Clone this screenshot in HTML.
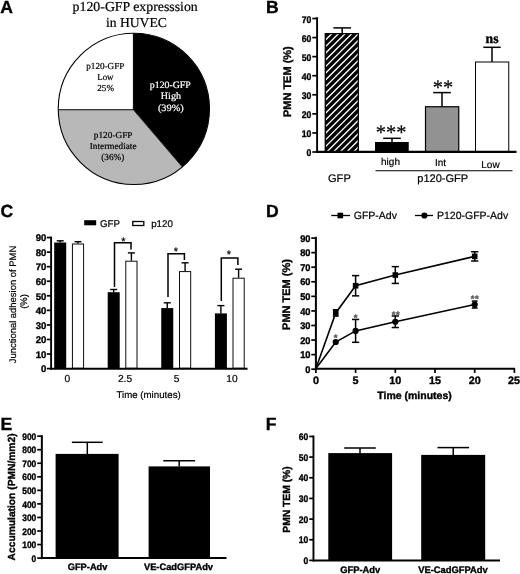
<!DOCTYPE html>
<html lang="en"><head><meta charset="utf-8"><title>p120-GFP expression figure</title>
<style>html,body{margin:0;padding:0;background:#fff}svg{display:block;will-change:transform;text-rendering:geometricPrecision}</style></head>
<body><svg width="520" height="574" viewBox="0 0 520 574">
<rect width="520" height="574" fill="#fff"/>
<text x="0.2" y="12.7" font-family='"Liberation Sans", Arial, sans-serif' font-size="17.6" font-weight="bold" stroke="#000" stroke-width="0.35">A</text>
<text x="266" y="12.7" font-family='"Liberation Sans", Arial, sans-serif' font-size="17.6" font-weight="bold" stroke="#000" stroke-width="0.35">B</text>
<text x="0.4" y="216.7" font-family='"Liberation Sans", Arial, sans-serif' font-size="17.6" font-weight="bold" stroke="#000" stroke-width="0.35">C</text>
<text x="266" y="216.7" font-family='"Liberation Sans", Arial, sans-serif' font-size="17.6" font-weight="bold" stroke="#000" stroke-width="0.35">D</text>
<text x="0.6" y="430" font-family='"Liberation Sans", Arial, sans-serif' font-size="17.6" font-weight="bold" stroke="#000" stroke-width="0.35">E</text>
<text x="265.8" y="430" font-family='"Liberation Sans", Arial, sans-serif' font-size="17.6" font-weight="bold" stroke="#000" stroke-width="0.35">F</text>
<text x="72.6" y="10.8" font-family='"Liberation Serif", "Times New Roman", serif' font-size="13.7" stroke="#000" stroke-width="0.2" textLength="125.2" lengthAdjust="spacingAndGlyphs">p120-GFP expresssion</text>
<text x="105.9" y="27" font-family='"Liberation Serif", "Times New Roman", serif' font-size="13.7" stroke="#000" stroke-width="0.2" textLength="61" lengthAdjust="spacingAndGlyphs">in HUVEC</text>
<clipPath id="pieclip"><circle cx="133.85" cy="108.85" r="75.6"/></clipPath>
<g clip-path="url(#pieclip)">
<rect x="40" y="20" width="200" height="180" fill="#fff"/>
<path d="M133.4,109.8 L133.4,0 L400,0 L400,280.2 L279.2,280.2 Z" fill="#000"/>
<path d="M133.4,109.8 L279.2,280.2 L0,280.2 L0,109.8 Z" fill="#b8b8b8"/>
<line x1="133.4" y1="109.8" x2="133.4" y2="0" stroke="#000" stroke-width="1"/>
<line x1="133.4" y1="109.8" x2="0" y2="109.8" stroke="#000" stroke-width="1.1"/>
<line x1="133.4" y1="109.8" x2="279.2" y2="280.2" stroke="#000" stroke-width="0.8"/>
</g>
<circle cx="133.85" cy="108.85" r="75.6" fill="none" stroke="#000" stroke-width="1.1"/>
<text x="86.3" y="68.7" font-family='"Liberation Serif", "Times New Roman", serif' font-size="9.2" stroke="#000" stroke-width="0.2" textLength="38.10" lengthAdjust="spacingAndGlyphs">p120-GFP</text>
<text x="97.3" y="79.65" font-family='"Liberation Serif", "Times New Roman", serif' font-size="9.2" stroke="#000" stroke-width="0.2" textLength="16.20" lengthAdjust="spacingAndGlyphs">Low</text>
<text x="97.3" y="90.6" font-family='"Liberation Serif", "Times New Roman", serif' font-size="9.2" stroke="#000" stroke-width="0.2" textLength="16.70" lengthAdjust="spacingAndGlyphs">25%</text>
<text x="149.8" y="87.5" font-family='"Liberation Serif", "Times New Roman", serif' font-size="9.8" stroke="#fff" stroke-width="0.2" fill="#fff" textLength="41.00" lengthAdjust="spacingAndGlyphs">p120-GFP</text>
<text x="160.8" y="98.5" font-family='"Liberation Serif", "Times New Roman", serif' font-size="9.8" stroke="#fff" stroke-width="0.2" fill="#fff" textLength="20.20" lengthAdjust="spacingAndGlyphs">High</text>
<text x="157.9" y="110.6" font-family='"Liberation Serif", "Times New Roman", serif' font-size="9.8" stroke="#fff" stroke-width="0.2" fill="#fff" textLength="25.90" lengthAdjust="spacingAndGlyphs">(39%)</text>
<text x="93.85" y="137.6" font-family='"Liberation Serif", "Times New Roman", serif' font-size="9.2" stroke="#000" stroke-width="0.2" textLength="38.65" lengthAdjust="spacingAndGlyphs">p120-GFP</text>
<text x="89.8" y="148.8" font-family='"Liberation Serif", "Times New Roman", serif' font-size="9.2" stroke="#000" stroke-width="0.2" textLength="46.70" lengthAdjust="spacingAndGlyphs">Intermediate</text>
<text x="101.3" y="159.5" font-family='"Liberation Serif", "Times New Roman", serif' font-size="9.2" stroke="#000" stroke-width="0.2" textLength="23.10" lengthAdjust="spacingAndGlyphs">(36%)</text>
<clipPath id="hb"><rect x="325.4" y="33.6" width="32.9" height="118.4"/></clipPath>
<rect x="325.4" y="33.6" width="32.9" height="118.4" fill="#000" stroke="#000" stroke-width="1.2"/>
<g clip-path="url(#hb)" stroke="#fff" stroke-width="1.35">
<line x1="320" y1="25.52" x2="365" y2="-19.48"/>
<line x1="320" y1="32.18" x2="365" y2="-12.82"/>
<line x1="320" y1="38.84" x2="365" y2="-6.16"/>
<line x1="320" y1="45.50" x2="365" y2="0.50"/>
<line x1="320" y1="52.16" x2="365" y2="7.16"/>
<line x1="320" y1="58.82" x2="365" y2="13.82"/>
<line x1="320" y1="65.48" x2="365" y2="20.48"/>
<line x1="320" y1="72.14" x2="365" y2="27.14"/>
<line x1="320" y1="78.81" x2="365" y2="33.81"/>
<line x1="320" y1="85.47" x2="365" y2="40.47"/>
<line x1="320" y1="92.13" x2="365" y2="47.13"/>
<line x1="320" y1="98.79" x2="365" y2="53.79"/>
<line x1="320" y1="105.45" x2="365" y2="60.45"/>
<line x1="320" y1="112.11" x2="365" y2="67.11"/>
<line x1="320" y1="118.77" x2="365" y2="73.77"/>
<line x1="320" y1="125.43" x2="365" y2="80.43"/>
<line x1="320" y1="132.09" x2="365" y2="87.09"/>
<line x1="320" y1="138.75" x2="365" y2="93.75"/>
<line x1="320" y1="145.41" x2="365" y2="100.41"/>
<line x1="320" y1="152.08" x2="365" y2="107.08"/>
<line x1="320" y1="158.74" x2="365" y2="113.74"/>
<line x1="320" y1="165.40" x2="365" y2="120.40"/>
<line x1="320" y1="172.06" x2="365" y2="127.06"/>
<line x1="320" y1="178.72" x2="365" y2="133.72"/>
<line x1="320" y1="185.38" x2="365" y2="140.38"/>
<line x1="320" y1="192.04" x2="365" y2="147.04"/>
</g>
<rect x="325.4" y="33.6" width="32.9" height="118.4" fill="none" stroke="#000" stroke-width="1.2"/>
<line x1="342.2" y1="27.9" x2="342.2" y2="33.6" stroke="#000" stroke-width="1.5"/>
<line x1="333.4" y1="27.9" x2="351.0" y2="27.9" stroke="#000" stroke-width="1.5"/>
<rect x="375" y="142" width="33.75" height="10" fill="#000"/>
<line x1="392" y1="138.3" x2="392" y2="142" stroke="#000" stroke-width="1.5"/>
<line x1="383.2" y1="138.3" x2="400.8" y2="138.3" stroke="#000" stroke-width="1.5"/>
<rect x="425.5" y="106.75" width="33.25" height="45.25" fill="#929292" stroke="#000" stroke-width="1.2"/>
<line x1="442" y1="92.6" x2="442" y2="106.75" stroke="#000" stroke-width="1.5"/>
<line x1="433.2" y1="92.6" x2="450.8" y2="92.6" stroke="#000" stroke-width="1.5"/>
<rect x="475.5" y="62" width="33.25" height="90" fill="#fff" stroke="#000" stroke-width="1.0"/>
<line x1="492" y1="47.3" x2="492" y2="62" stroke="#000" stroke-width="1.5"/>
<line x1="483.3" y1="47.3" x2="500.7" y2="47.3" stroke="#000" stroke-width="1.5"/>
<line x1="317.1" y1="17.2" x2="317.1" y2="152.9" stroke="#000" stroke-width="1.9"/>
<line x1="316.15" y1="151.8" x2="516.5" y2="151.8" stroke="#000" stroke-width="2.2"/>
<line x1="312.3" y1="152.0" x2="317" y2="152.0" stroke="#000" stroke-width="1.7"/>
<text x="311.4" y="156.0" font-family='"Liberation Sans", Arial, sans-serif' font-size="9.6" font-weight="bold" stroke="#000" stroke-width="0.35" text-anchor="end" textLength="4.83" lengthAdjust="spacingAndGlyphs">0</text>
<line x1="312.3" y1="132.93" x2="317" y2="132.93" stroke="#000" stroke-width="1.7"/>
<text x="311.4" y="136.93" font-family='"Liberation Sans", Arial, sans-serif' font-size="9.6" font-weight="bold" stroke="#000" stroke-width="0.35" text-anchor="end" textLength="9.66" lengthAdjust="spacingAndGlyphs">10</text>
<line x1="312.3" y1="113.86" x2="317" y2="113.86" stroke="#000" stroke-width="1.7"/>
<text x="311.4" y="117.86" font-family='"Liberation Sans", Arial, sans-serif' font-size="9.6" font-weight="bold" stroke="#000" stroke-width="0.35" text-anchor="end" textLength="9.66" lengthAdjust="spacingAndGlyphs">20</text>
<line x1="312.3" y1="94.78999999999999" x2="317" y2="94.78999999999999" stroke="#000" stroke-width="1.7"/>
<text x="311.4" y="98.78999999999999" font-family='"Liberation Sans", Arial, sans-serif' font-size="9.6" font-weight="bold" stroke="#000" stroke-width="0.35" text-anchor="end" textLength="9.66" lengthAdjust="spacingAndGlyphs">30</text>
<line x1="312.3" y1="75.72" x2="317" y2="75.72" stroke="#000" stroke-width="1.7"/>
<text x="311.4" y="79.72" font-family='"Liberation Sans", Arial, sans-serif' font-size="9.6" font-weight="bold" stroke="#000" stroke-width="0.35" text-anchor="end" textLength="9.66" lengthAdjust="spacingAndGlyphs">40</text>
<line x1="312.3" y1="56.650000000000006" x2="317" y2="56.650000000000006" stroke="#000" stroke-width="1.7"/>
<text x="311.4" y="60.650000000000006" font-family='"Liberation Sans", Arial, sans-serif' font-size="9.6" font-weight="bold" stroke="#000" stroke-width="0.35" text-anchor="end" textLength="9.66" lengthAdjust="spacingAndGlyphs">50</text>
<line x1="312.3" y1="37.58" x2="317" y2="37.58" stroke="#000" stroke-width="1.7"/>
<text x="311.4" y="41.58" font-family='"Liberation Sans", Arial, sans-serif' font-size="9.6" font-weight="bold" stroke="#000" stroke-width="0.35" text-anchor="end" textLength="9.66" lengthAdjust="spacingAndGlyphs">60</text>
<line x1="312.3" y1="18.50999999999999" x2="317" y2="18.50999999999999" stroke="#000" stroke-width="1.7"/>
<text x="311.4" y="22.50999999999999" font-family='"Liberation Sans", Arial, sans-serif' font-size="9.6" font-weight="bold" stroke="#000" stroke-width="0.35" text-anchor="end" textLength="9.66" lengthAdjust="spacingAndGlyphs">70</text>
<text x="291.4" y="81.65" font-family='"Liberation Sans", Arial, sans-serif' font-size="11" font-weight="bold" stroke="#000" stroke-width="0.35" text-anchor="middle" transform="rotate(-90 291.4 81.65)">PMN TEM (%)</text>
<text x="339.4" y="182.1" font-family='"Liberation Sans", Arial, sans-serif' font-size="11.1" stroke="#000" stroke-width="0.2" text-anchor="middle">GFP</text>
<text x="390.5" y="165.4" font-family='"Liberation Sans", Arial, sans-serif' font-size="10" stroke="#000" stroke-width="0.2" text-anchor="middle">high</text>
<text x="440.6" y="165.7" font-family='"Liberation Sans", Arial, sans-serif' font-size="10" stroke="#000" stroke-width="0.2" text-anchor="middle">Int</text>
<text x="490.5" y="167.6" font-family='"Liberation Sans", Arial, sans-serif' font-size="10" stroke="#000" stroke-width="0.2" text-anchor="middle">Low</text>
<line x1="375.5" y1="170.75" x2="512.5" y2="170.75" stroke="#000" stroke-width="1.2"/>
<text x="442.75" y="182.2" font-family='"Liberation Sans", Arial, sans-serif' font-size="11.05" stroke="#000" stroke-width="0.2" text-anchor="middle">p120-GFP</text>
<text x="391" y="139" font-family='"Liberation Serif", "Times New Roman", serif' font-size="20.5" stroke="#000" stroke-width="0.2" text-anchor="middle">***</text>
<text x="443" y="93.6" font-family='"Liberation Serif", "Times New Roman", serif' font-size="20.5" stroke="#000" stroke-width="0.2" text-anchor="middle">**</text>
<text x="492" y="43.3" font-family='"Liberation Serif", "Times New Roman", serif' font-size="13.7" font-weight="bold" stroke="#000" stroke-width="0.35" text-anchor="middle">ns</text>
<rect x="84.2" y="220.2" width="12" height="5.1" fill="#000"/>
<text x="100" y="226.7" font-family='"Liberation Sans", Arial, sans-serif' font-size="9.75" stroke="#000" stroke-width="0.2">GFP</text>
<rect x="132.8" y="221.5" width="11" height="4" fill="#fff" stroke="#000" stroke-width="1.3"/>
<text x="151.2" y="226.7" font-family='"Liberation Sans", Arial, sans-serif' font-size="9.75" stroke="#000" stroke-width="0.2">p120</text>
<rect x="54.2" y="242.5" width="12" height="125.75" fill="#000"/>
<line x1="60.2" y1="240.8" x2="60.2" y2="242.5" stroke="#000" stroke-width="1.4"/>
<line x1="56.7" y1="240.8" x2="63.7" y2="240.8" stroke="#000" stroke-width="1.4"/>
<rect x="72.4" y="244.0" width="11.2" height="124.25" fill="#fff" stroke="#000" stroke-width="0.95"/>
<line x1="78.0" y1="241.7" x2="78.0" y2="243.5" stroke="#000" stroke-width="1.4"/>
<line x1="74.5" y1="241.7" x2="81.5" y2="241.7" stroke="#000" stroke-width="1.4"/>
<rect x="107.7" y="292.2" width="12" height="76.05000000000001" fill="#000"/>
<line x1="113.7" y1="289.5" x2="113.7" y2="292.2" stroke="#000" stroke-width="1.4"/>
<line x1="110.2" y1="289.5" x2="117.2" y2="289.5" stroke="#000" stroke-width="1.4"/>
<rect x="125.8" y="261.2" width="11.2" height="107.05000000000001" fill="#fff" stroke="#000" stroke-width="0.95"/>
<line x1="131.4" y1="252.9" x2="131.4" y2="260.7" stroke="#000" stroke-width="1.4"/>
<line x1="127.9" y1="252.9" x2="134.9" y2="252.9" stroke="#000" stroke-width="1.4"/>
<rect x="161.25" y="308.1" width="12" height="60.14999999999998" fill="#000"/>
<line x1="167.25" y1="302.8" x2="167.25" y2="308.1" stroke="#000" stroke-width="1.4"/>
<line x1="163.75" y1="302.8" x2="170.75" y2="302.8" stroke="#000" stroke-width="1.4"/>
<rect x="179.5" y="271.6" width="11.2" height="96.64999999999998" fill="#fff" stroke="#000" stroke-width="0.95"/>
<line x1="185.1" y1="262.8" x2="185.1" y2="271.1" stroke="#000" stroke-width="1.4"/>
<line x1="181.6" y1="262.8" x2="188.6" y2="262.8" stroke="#000" stroke-width="1.4"/>
<rect x="214.9" y="313.4" width="12" height="54.85000000000002" fill="#000"/>
<line x1="220.9" y1="305.6" x2="220.9" y2="313.4" stroke="#000" stroke-width="1.4"/>
<line x1="217.4" y1="305.6" x2="224.4" y2="305.6" stroke="#000" stroke-width="1.4"/>
<rect x="233.0" y="278.2" width="11.2" height="90.05000000000001" fill="#fff" stroke="#000" stroke-width="0.95"/>
<line x1="238.6" y1="269.2" x2="238.6" y2="277.7" stroke="#000" stroke-width="1.4"/>
<line x1="235.1" y1="269.2" x2="242.1" y2="269.2" stroke="#000" stroke-width="1.4"/>
<line x1="51.1" y1="236.6" x2="51.1" y2="369.45" stroke="#000" stroke-width="1.9"/>
<line x1="50.15" y1="368.7" x2="247.5" y2="368.7" stroke="#000" stroke-width="2.1"/>
<line x1="46.8" y1="368.6" x2="51" y2="368.6" stroke="#000" stroke-width="1.7"/>
<text x="46.4" y="372.3" font-family='"Liberation Sans", Arial, sans-serif' font-size="9.6" font-weight="bold" stroke="#000" stroke-width="0.35" text-anchor="end" textLength="5.34" lengthAdjust="spacingAndGlyphs">0</text>
<line x1="46.8" y1="354.04" x2="51" y2="354.04" stroke="#000" stroke-width="1.7"/>
<text x="46.4" y="357.74" font-family='"Liberation Sans", Arial, sans-serif' font-size="9.6" font-weight="bold" stroke="#000" stroke-width="0.35" text-anchor="end" textLength="10.68" lengthAdjust="spacingAndGlyphs">10</text>
<line x1="46.8" y1="339.48" x2="51" y2="339.48" stroke="#000" stroke-width="1.7"/>
<text x="46.4" y="343.18" font-family='"Liberation Sans", Arial, sans-serif' font-size="9.6" font-weight="bold" stroke="#000" stroke-width="0.35" text-anchor="end" textLength="10.68" lengthAdjust="spacingAndGlyphs">20</text>
<line x1="46.8" y1="324.92" x2="51" y2="324.92" stroke="#000" stroke-width="1.7"/>
<text x="46.4" y="328.62" font-family='"Liberation Sans", Arial, sans-serif' font-size="9.6" font-weight="bold" stroke="#000" stroke-width="0.35" text-anchor="end" textLength="10.68" lengthAdjust="spacingAndGlyphs">30</text>
<line x1="46.8" y1="310.36" x2="51" y2="310.36" stroke="#000" stroke-width="1.7"/>
<text x="46.4" y="314.06" font-family='"Liberation Sans", Arial, sans-serif' font-size="9.6" font-weight="bold" stroke="#000" stroke-width="0.35" text-anchor="end" textLength="10.68" lengthAdjust="spacingAndGlyphs">40</text>
<line x1="46.8" y1="295.8" x2="51" y2="295.8" stroke="#000" stroke-width="1.7"/>
<text x="46.4" y="299.5" font-family='"Liberation Sans", Arial, sans-serif' font-size="9.6" font-weight="bold" stroke="#000" stroke-width="0.35" text-anchor="end" textLength="10.68" lengthAdjust="spacingAndGlyphs">50</text>
<line x1="46.8" y1="281.24" x2="51" y2="281.24" stroke="#000" stroke-width="1.7"/>
<text x="46.4" y="284.94" font-family='"Liberation Sans", Arial, sans-serif' font-size="9.6" font-weight="bold" stroke="#000" stroke-width="0.35" text-anchor="end" textLength="10.68" lengthAdjust="spacingAndGlyphs">60</text>
<line x1="46.8" y1="266.68" x2="51" y2="266.68" stroke="#000" stroke-width="1.7"/>
<text x="46.4" y="270.38" font-family='"Liberation Sans", Arial, sans-serif' font-size="9.6" font-weight="bold" stroke="#000" stroke-width="0.35" text-anchor="end" textLength="10.68" lengthAdjust="spacingAndGlyphs">70</text>
<line x1="46.8" y1="252.12" x2="51" y2="252.12" stroke="#000" stroke-width="1.7"/>
<text x="46.4" y="255.82" font-family='"Liberation Sans", Arial, sans-serif' font-size="9.6" font-weight="bold" stroke="#000" stroke-width="0.35" text-anchor="end" textLength="10.68" lengthAdjust="spacingAndGlyphs">80</text>
<line x1="46.8" y1="237.56000000000003" x2="51" y2="237.56000000000003" stroke="#000" stroke-width="1.7"/>
<text x="46.4" y="241.26000000000002" font-family='"Liberation Sans", Arial, sans-serif' font-size="9.6" font-weight="bold" stroke="#000" stroke-width="0.35" text-anchor="end" textLength="10.68" lengthAdjust="spacingAndGlyphs">90</text>
<text x="15.6" y="304.5" font-family='"Liberation Sans", Arial, sans-serif' font-size="9.45" stroke="#000" stroke-width="0.2" text-anchor="middle" transform="rotate(-90 15.6 304.5)">Junctional adhesion of PMN</text>
<text x="27" y="301.5" font-family='"Liberation Sans", Arial, sans-serif' font-size="9.45" stroke="#000" stroke-width="0.2" text-anchor="middle" transform="rotate(-90 27 301.5)">(%)</text>
<text x="67.4" y="381.8" font-family='"Liberation Sans", Arial, sans-serif' font-size="10.2" stroke="#000" stroke-width="0.2" text-anchor="middle">0</text>
<text x="125" y="381.8" font-family='"Liberation Sans", Arial, sans-serif' font-size="10.2" stroke="#000" stroke-width="0.2" text-anchor="middle">2.5</text>
<text x="176.5" y="381.8" font-family='"Liberation Sans", Arial, sans-serif' font-size="10.2" stroke="#000" stroke-width="0.2" text-anchor="middle">5</text>
<text x="232" y="381.8" font-family='"Liberation Sans", Arial, sans-serif' font-size="10.2" stroke="#000" stroke-width="0.2" text-anchor="middle">10</text>
<text x="148.6" y="397.5" font-family='"Liberation Sans", Arial, sans-serif' font-size="9.7" stroke="#000" stroke-width="0.2" text-anchor="middle">Time (minutes)</text>
<polyline points="114.5,287 114.5,242.8 131,242.8 131,249.5" fill="none" stroke="#000" stroke-width="1.5"/>
<text x="123.5" y="244.9" font-family='"Liberation Sans", Arial, sans-serif' font-size="11" stroke="#000" stroke-width="0.2" text-anchor="middle">*</text>
<polyline points="168,297 168,253.75 184.4,253.75 184.4,260" fill="none" stroke="#000" stroke-width="1.5"/>
<text x="175.9" y="254.6" font-family='"Liberation Sans", Arial, sans-serif' font-size="11" stroke="#000" stroke-width="0.2" text-anchor="middle">*</text>
<polyline points="221.3,301 221.3,258 237.9,258 237.9,265" fill="none" stroke="#000" stroke-width="1.5"/>
<text x="229" y="258.4" font-family='"Liberation Sans", Arial, sans-serif' font-size="11" stroke="#000" stroke-width="0.2" text-anchor="middle">*</text>
<line x1="331.25" y1="215.5" x2="350" y2="215.5" stroke="#000" stroke-width="1.3"/>
<rect x="337.5" y="212.7" width="5.6" height="5.6" fill="#000"/>
<text x="353.75" y="218.75" font-family='"Liberation Sans", Arial, sans-serif' font-size="10.5" stroke="#000" stroke-width="0.2">GFP-Adv</text>
<line x1="415" y1="215.5" x2="433" y2="215.5" stroke="#000" stroke-width="1.3"/>
<circle cx="424.4" cy="215.5" r="3.1" fill="#000"/>
<text x="437" y="218.75" font-family='"Liberation Sans", Arial, sans-serif' font-size="10.5" stroke="#000" stroke-width="0.2">P120-GFP-Adv</text>
<line x1="315.9" y1="236.8" x2="315.9" y2="369.8" stroke="#000" stroke-width="2.0"/>
<line x1="314.9" y1="368.8" x2="515" y2="368.8" stroke="#000" stroke-width="2.0"/>
<line x1="311.3" y1="369.2" x2="316" y2="369.2" stroke="#000" stroke-width="1.7"/>
<text x="310.5" y="372.8" font-family='"Liberation Sans", Arial, sans-serif' font-size="9.792" font-weight="bold" stroke="#000" stroke-width="0.35" text-anchor="end" textLength="5.17" lengthAdjust="spacingAndGlyphs">0</text>
<line x1="311.3" y1="354.63" x2="316" y2="354.63" stroke="#000" stroke-width="1.7"/>
<text x="310.5" y="358.23" font-family='"Liberation Sans", Arial, sans-serif' font-size="9.792" font-weight="bold" stroke="#000" stroke-width="0.35" text-anchor="end" textLength="10.34" lengthAdjust="spacingAndGlyphs">10</text>
<line x1="311.3" y1="340.06" x2="316" y2="340.06" stroke="#000" stroke-width="1.7"/>
<text x="310.5" y="343.66" font-family='"Liberation Sans", Arial, sans-serif' font-size="9.792" font-weight="bold" stroke="#000" stroke-width="0.35" text-anchor="end" textLength="10.34" lengthAdjust="spacingAndGlyphs">20</text>
<line x1="311.3" y1="325.49" x2="316" y2="325.49" stroke="#000" stroke-width="1.7"/>
<text x="310.5" y="329.09000000000003" font-family='"Liberation Sans", Arial, sans-serif' font-size="9.792" font-weight="bold" stroke="#000" stroke-width="0.35" text-anchor="end" textLength="10.34" lengthAdjust="spacingAndGlyphs">30</text>
<line x1="311.3" y1="310.91999999999996" x2="316" y2="310.91999999999996" stroke="#000" stroke-width="1.7"/>
<text x="310.5" y="314.52" font-family='"Liberation Sans", Arial, sans-serif' font-size="9.792" font-weight="bold" stroke="#000" stroke-width="0.35" text-anchor="end" textLength="10.34" lengthAdjust="spacingAndGlyphs">40</text>
<line x1="311.3" y1="296.35" x2="316" y2="296.35" stroke="#000" stroke-width="1.7"/>
<text x="310.5" y="299.95000000000005" font-family='"Liberation Sans", Arial, sans-serif' font-size="9.792" font-weight="bold" stroke="#000" stroke-width="0.35" text-anchor="end" textLength="10.34" lengthAdjust="spacingAndGlyphs">50</text>
<line x1="311.3" y1="281.78" x2="316" y2="281.78" stroke="#000" stroke-width="1.7"/>
<text x="310.5" y="285.38" font-family='"Liberation Sans", Arial, sans-serif' font-size="9.792" font-weight="bold" stroke="#000" stroke-width="0.35" text-anchor="end" textLength="10.34" lengthAdjust="spacingAndGlyphs">60</text>
<line x1="311.3" y1="267.21" x2="316" y2="267.21" stroke="#000" stroke-width="1.7"/>
<text x="310.5" y="270.81" font-family='"Liberation Sans", Arial, sans-serif' font-size="9.792" font-weight="bold" stroke="#000" stroke-width="0.35" text-anchor="end" textLength="10.34" lengthAdjust="spacingAndGlyphs">70</text>
<line x1="311.3" y1="252.64" x2="316" y2="252.64" stroke="#000" stroke-width="1.7"/>
<text x="310.5" y="256.24" font-family='"Liberation Sans", Arial, sans-serif' font-size="9.792" font-weight="bold" stroke="#000" stroke-width="0.35" text-anchor="end" textLength="10.34" lengthAdjust="spacingAndGlyphs">80</text>
<line x1="311.3" y1="238.07" x2="316" y2="238.07" stroke="#000" stroke-width="1.7"/>
<text x="310.5" y="241.67" font-family='"Liberation Sans", Arial, sans-serif' font-size="9.792" font-weight="bold" stroke="#000" stroke-width="0.35" text-anchor="end" textLength="10.34" lengthAdjust="spacingAndGlyphs">90</text>
<line x1="315.9" y1="368.5" x2="315.9" y2="372.9" stroke="#000" stroke-width="1.7"/>
<text x="315.9" y="383.8" font-family='"Liberation Sans", Arial, sans-serif' font-size="10.8" font-weight="bold" stroke="#000" stroke-width="0.35" text-anchor="middle">0</text>
<line x1="355.59999999999997" y1="368.5" x2="355.59999999999997" y2="372.9" stroke="#000" stroke-width="1.7"/>
<text x="355.59999999999997" y="383.8" font-family='"Liberation Sans", Arial, sans-serif' font-size="10.8" font-weight="bold" stroke="#000" stroke-width="0.35" text-anchor="middle">5</text>
<line x1="395.29999999999995" y1="368.5" x2="395.29999999999995" y2="372.9" stroke="#000" stroke-width="1.7"/>
<text x="395.29999999999995" y="383.8" font-family='"Liberation Sans", Arial, sans-serif' font-size="10.8" font-weight="bold" stroke="#000" stroke-width="0.35" text-anchor="middle">10</text>
<line x1="435.0" y1="368.5" x2="435.0" y2="372.9" stroke="#000" stroke-width="1.7"/>
<text x="435.0" y="383.8" font-family='"Liberation Sans", Arial, sans-serif' font-size="10.8" font-weight="bold" stroke="#000" stroke-width="0.35" text-anchor="middle">15</text>
<line x1="474.7" y1="368.5" x2="474.7" y2="372.9" stroke="#000" stroke-width="1.7"/>
<text x="474.7" y="383.8" font-family='"Liberation Sans", Arial, sans-serif' font-size="10.8" font-weight="bold" stroke="#000" stroke-width="0.35" text-anchor="middle">20</text>
<line x1="514.4" y1="368.5" x2="514.4" y2="372.9" stroke="#000" stroke-width="1.7"/>
<text x="514.1" y="383.8" font-family='"Liberation Sans", Arial, sans-serif' font-size="10.8" font-weight="bold" stroke="#000" stroke-width="0.35" text-anchor="middle">25</text>
<text x="289.6" y="294.5" font-family='"Liberation Sans", Arial, sans-serif' font-size="11" font-weight="bold" stroke="#000" stroke-width="0.35" text-anchor="middle" transform="rotate(-90 289.6 294.5)">PMN TEM (%)</text>
<text x="414.5" y="398.75" font-family='"Liberation Sans", Arial, sans-serif' font-size="10.5" font-weight="bold" stroke="#000" stroke-width="0.35" text-anchor="middle">Time (minutes)</text>
<polyline points="315.90,368.50 335.75,312.94 355.60,285.73 395.30,275.02 474.70,256.36" fill="none" stroke="#000" stroke-width="1.6"/>
<line x1="335.75" y1="309.7518" x2="335.75" y2="316.1186" stroke="#000" stroke-width="1.5"/>
<line x1="332.85" y1="309.7518" x2="338.65" y2="309.7518" stroke="#000" stroke-width="1.5"/>
<line x1="332.85" y1="316.1186" x2="338.65" y2="316.1186" stroke="#000" stroke-width="1.5"/>
<rect x="332.95" y="310.1352" width="5.6" height="5.6" fill="#000"/>
<line x1="355.59999999999997" y1="275.6026" x2="355.59999999999997" y2="295.8606" stroke="#000" stroke-width="1.5"/>
<line x1="351.99999999999994" y1="275.6026" x2="359.2" y2="275.6026" stroke="#000" stroke-width="1.5"/>
<line x1="351.99999999999994" y1="295.8606" x2="359.2" y2="295.8606" stroke="#000" stroke-width="1.5"/>
<rect x="352.79999999999995" y="282.93159999999995" width="5.6" height="5.6" fill="#000"/>
<line x1="395.29999999999995" y1="266.63120000000004" x2="395.29999999999995" y2="283.4164" stroke="#000" stroke-width="1.5"/>
<line x1="391.69999999999993" y1="266.63120000000004" x2="398.9" y2="266.63120000000004" stroke="#000" stroke-width="1.5"/>
<line x1="391.69999999999993" y1="283.4164" x2="398.9" y2="283.4164" stroke="#000" stroke-width="1.5"/>
<rect x="392.49999999999994" y="272.2238" width="5.6" height="5.6" fill="#000"/>
<line x1="474.7" y1="251.7271" x2="474.7" y2="260.98789999999997" stroke="#000" stroke-width="1.5"/>
<line x1="471.09999999999997" y1="251.7271" x2="478.3" y2="251.7271" stroke="#000" stroke-width="1.5"/>
<line x1="471.09999999999997" y1="260.98789999999997" x2="478.3" y2="260.98789999999997" stroke="#000" stroke-width="1.5"/>
<rect x="471.9" y="253.5575" width="5.6" height="5.6" fill="#000"/>
<polyline points="315.90,368.50 335.75,342.02 355.60,330.88 395.30,321.76 474.70,304.54" fill="none" stroke="#000" stroke-width="1.6"/>
<circle cx="335.75" cy="342.02" r="3.1" fill="#000"/>
<line x1="355.59999999999997" y1="319.4467" x2="355.59999999999997" y2="342.3093" stroke="#000" stroke-width="1.5"/>
<line x1="351.99999999999994" y1="319.4467" x2="359.2" y2="319.4467" stroke="#000" stroke-width="1.5"/>
<line x1="351.99999999999994" y1="342.3093" x2="359.2" y2="342.3093" stroke="#000" stroke-width="1.5"/>
<circle cx="355.60" cy="330.88" r="3.1" fill="#000"/>
<line x1="395.29999999999995" y1="315.9739" x2="395.29999999999995" y2="327.5499" stroke="#000" stroke-width="1.5"/>
<line x1="391.69999999999993" y1="315.9739" x2="398.9" y2="315.9739" stroke="#000" stroke-width="1.5"/>
<line x1="391.69999999999993" y1="327.5499" x2="398.9" y2="327.5499" stroke="#000" stroke-width="1.5"/>
<circle cx="395.30" cy="321.76" r="3.1" fill="#000"/>
<line x1="474.7" y1="301.0698" x2="474.7" y2="308.0154" stroke="#000" stroke-width="1.5"/>
<line x1="471.8" y1="301.0698" x2="477.59999999999997" y2="301.0698" stroke="#000" stroke-width="1.5"/>
<line x1="471.8" y1="308.0154" x2="477.59999999999997" y2="308.0154" stroke="#000" stroke-width="1.5"/>
<circle cx="474.70" cy="304.54" r="3.1" fill="#000"/>
<text x="335.5" y="340.9" font-family='"Liberation Sans", Arial, sans-serif' font-size="9.6" font-weight="bold" stroke="#555" stroke-width="0.35" text-anchor="middle" fill="#555">*</text>
<text x="355.5" y="320.9" font-family='"Liberation Sans", Arial, sans-serif' font-size="9.6" font-weight="bold" stroke="#555" stroke-width="0.35" text-anchor="middle" fill="#555">*</text>
<text x="395.9" y="317.7" font-family='"Liberation Sans", Arial, sans-serif' font-size="9.6" font-weight="bold" stroke="#555" stroke-width="0.35" text-anchor="middle" fill="#555" letter-spacing="0.5">**</text>
<text x="474.9" y="301.5" font-family='"Liberation Sans", Arial, sans-serif' font-size="9.6" font-weight="bold" stroke="#555" stroke-width="0.35" text-anchor="middle" fill="#555" letter-spacing="0.5">**</text>
<rect x="55.6" y="453.9" width="63" height="104.20000000000005" fill="#000"/>
<line x1="87.3" y1="442.3" x2="87.3" y2="454.25" stroke="#000" stroke-width="1.5"/>
<line x1="71.89999999999999" y1="442.3" x2="102.7" y2="442.3" stroke="#000" stroke-width="1.5"/>
<rect x="148.6" y="466.4" width="61.4" height="91.70000000000005" fill="#000"/>
<line x1="179.2" y1="460.8" x2="179.2" y2="466.4" stroke="#000" stroke-width="1.5"/>
<line x1="163.29999999999998" y1="460.8" x2="195.1" y2="460.8" stroke="#000" stroke-width="1.5"/>
<line x1="41.85" y1="435.2" x2="41.85" y2="559.1" stroke="#000" stroke-width="2.0"/>
<line x1="40.85" y1="558.1" x2="226.5" y2="558.1" stroke="#000" stroke-width="2.0"/>
<line x1="37.2" y1="558.1" x2="41.8" y2="558.1" stroke="#000" stroke-width="1.7"/>
<text x="36.3" y="561.7" font-family='"Liberation Sans", Arial, sans-serif' font-size="9.312" font-weight="bold" stroke="#000" stroke-width="0.35" text-anchor="end" textLength="4.69" lengthAdjust="spacingAndGlyphs">0</text>
<line x1="37.2" y1="544.5500000000001" x2="41.8" y2="544.5500000000001" stroke="#000" stroke-width="1.7"/>
<text x="36.3" y="548.1500000000001" font-family='"Liberation Sans", Arial, sans-serif' font-size="9.312" font-weight="bold" stroke="#000" stroke-width="0.35" text-anchor="end" textLength="14.06" lengthAdjust="spacingAndGlyphs">100</text>
<line x1="37.2" y1="531.0" x2="41.8" y2="531.0" stroke="#000" stroke-width="1.7"/>
<text x="36.3" y="534.6" font-family='"Liberation Sans", Arial, sans-serif' font-size="9.312" font-weight="bold" stroke="#000" stroke-width="0.35" text-anchor="end" textLength="14.06" lengthAdjust="spacingAndGlyphs">200</text>
<line x1="37.2" y1="517.45" x2="41.8" y2="517.45" stroke="#000" stroke-width="1.7"/>
<text x="36.3" y="521.0500000000001" font-family='"Liberation Sans", Arial, sans-serif' font-size="9.312" font-weight="bold" stroke="#000" stroke-width="0.35" text-anchor="end" textLength="14.06" lengthAdjust="spacingAndGlyphs">300</text>
<line x1="37.2" y1="503.90000000000003" x2="41.8" y2="503.90000000000003" stroke="#000" stroke-width="1.7"/>
<text x="36.3" y="507.50000000000006" font-family='"Liberation Sans", Arial, sans-serif' font-size="9.312" font-weight="bold" stroke="#000" stroke-width="0.35" text-anchor="end" textLength="14.06" lengthAdjust="spacingAndGlyphs">400</text>
<line x1="37.2" y1="490.35" x2="41.8" y2="490.35" stroke="#000" stroke-width="1.7"/>
<text x="36.3" y="493.95000000000005" font-family='"Liberation Sans", Arial, sans-serif' font-size="9.312" font-weight="bold" stroke="#000" stroke-width="0.35" text-anchor="end" textLength="14.06" lengthAdjust="spacingAndGlyphs">500</text>
<line x1="37.2" y1="476.8" x2="41.8" y2="476.8" stroke="#000" stroke-width="1.7"/>
<text x="36.3" y="480.40000000000003" font-family='"Liberation Sans", Arial, sans-serif' font-size="9.312" font-weight="bold" stroke="#000" stroke-width="0.35" text-anchor="end" textLength="14.06" lengthAdjust="spacingAndGlyphs">600</text>
<line x1="37.2" y1="463.25" x2="41.8" y2="463.25" stroke="#000" stroke-width="1.7"/>
<text x="36.3" y="466.85" font-family='"Liberation Sans", Arial, sans-serif' font-size="9.312" font-weight="bold" stroke="#000" stroke-width="0.35" text-anchor="end" textLength="14.06" lengthAdjust="spacingAndGlyphs">700</text>
<line x1="37.2" y1="449.70000000000005" x2="41.8" y2="449.70000000000005" stroke="#000" stroke-width="1.7"/>
<text x="36.3" y="453.30000000000007" font-family='"Liberation Sans", Arial, sans-serif' font-size="9.312" font-weight="bold" stroke="#000" stroke-width="0.35" text-anchor="end" textLength="14.06" lengthAdjust="spacingAndGlyphs">800</text>
<line x1="37.2" y1="436.15000000000003" x2="41.8" y2="436.15000000000003" stroke="#000" stroke-width="1.7"/>
<text x="36.3" y="439.75000000000006" font-family='"Liberation Sans", Arial, sans-serif' font-size="9.312" font-weight="bold" stroke="#000" stroke-width="0.35" text-anchor="end" textLength="14.06" lengthAdjust="spacingAndGlyphs">900</text>
<text x="15" y="496.9" font-family='"Liberation Sans", Arial, sans-serif' font-size="10.25" font-weight="bold" stroke="#000" stroke-width="0.35" text-anchor="middle" transform="rotate(-90 15 496.9)">Accumulation (PMN/mm2)</text>
<text x="87.6" y="570.4" font-family='"Liberation Sans", Arial, sans-serif' font-size="9.3" font-weight="bold" stroke="#000" stroke-width="0.35" text-anchor="middle">GFP-Adv</text>
<text x="178.5" y="570.4" font-family='"Liberation Sans", Arial, sans-serif' font-size="9.3" font-weight="bold" stroke="#000" stroke-width="0.35" text-anchor="middle">VE-CadGFPAdv</text>
<rect x="328.3" y="453.1" width="63.8" height="107.29999999999995" fill="#000"/>
<line x1="360" y1="448" x2="360" y2="453.25" stroke="#000" stroke-width="1.5"/>
<line x1="344.25" y1="448" x2="375.75" y2="448" stroke="#000" stroke-width="1.5"/>
<rect x="421.2" y="454.9" width="64" height="105.5" fill="#000"/>
<line x1="453.25" y1="447.6" x2="453.25" y2="455" stroke="#000" stroke-width="1.5"/>
<line x1="437.5" y1="447.6" x2="469.0" y2="447.6" stroke="#000" stroke-width="1.5"/>
<line x1="313.45" y1="435.6" x2="313.45" y2="561.4" stroke="#000" stroke-width="1.9"/>
<line x1="312.75" y1="560.4" x2="500" y2="560.4" stroke="#000" stroke-width="2.0"/>
<line x1="309.2" y1="560.4" x2="313.7" y2="560.4" stroke="#000" stroke-width="1.7"/>
<text x="308.4" y="564.0" font-family='"Liberation Sans", Arial, sans-serif' font-size="9.504" font-weight="bold" stroke="#000" stroke-width="0.35" text-anchor="end" textLength="4.78" lengthAdjust="spacingAndGlyphs">0</text>
<line x1="309.2" y1="539.74" x2="313.7" y2="539.74" stroke="#000" stroke-width="1.7"/>
<text x="308.4" y="543.34" font-family='"Liberation Sans", Arial, sans-serif' font-size="9.504" font-weight="bold" stroke="#000" stroke-width="0.35" text-anchor="end" textLength="9.56" lengthAdjust="spacingAndGlyphs">10</text>
<line x1="309.2" y1="519.0799999999999" x2="313.7" y2="519.0799999999999" stroke="#000" stroke-width="1.7"/>
<text x="308.4" y="522.68" font-family='"Liberation Sans", Arial, sans-serif' font-size="9.504" font-weight="bold" stroke="#000" stroke-width="0.35" text-anchor="end" textLength="9.56" lengthAdjust="spacingAndGlyphs">20</text>
<line x1="309.2" y1="498.41999999999996" x2="313.7" y2="498.41999999999996" stroke="#000" stroke-width="1.7"/>
<text x="308.4" y="502.02" font-family='"Liberation Sans", Arial, sans-serif' font-size="9.504" font-weight="bold" stroke="#000" stroke-width="0.35" text-anchor="end" textLength="9.56" lengthAdjust="spacingAndGlyphs">30</text>
<line x1="309.2" y1="477.76" x2="313.7" y2="477.76" stroke="#000" stroke-width="1.7"/>
<text x="308.4" y="481.36" font-family='"Liberation Sans", Arial, sans-serif' font-size="9.504" font-weight="bold" stroke="#000" stroke-width="0.35" text-anchor="end" textLength="9.56" lengthAdjust="spacingAndGlyphs">40</text>
<line x1="309.2" y1="457.09999999999997" x2="313.7" y2="457.09999999999997" stroke="#000" stroke-width="1.7"/>
<text x="308.4" y="460.7" font-family='"Liberation Sans", Arial, sans-serif' font-size="9.504" font-weight="bold" stroke="#000" stroke-width="0.35" text-anchor="end" textLength="9.56" lengthAdjust="spacingAndGlyphs">50</text>
<line x1="309.2" y1="436.43999999999994" x2="313.7" y2="436.43999999999994" stroke="#000" stroke-width="1.7"/>
<text x="308.4" y="440.03999999999996" font-family='"Liberation Sans", Arial, sans-serif' font-size="9.504" font-weight="bold" stroke="#000" stroke-width="0.35" text-anchor="end" textLength="9.56" lengthAdjust="spacingAndGlyphs">60</text>
<text x="289.8" y="499.5" font-family='"Liberation Sans", Arial, sans-serif' font-size="10.3" font-weight="bold" stroke="#000" stroke-width="0.35" text-anchor="middle" transform="rotate(-90 289.8 499.5)">PMN TEM (%)</text>
<text x="360.2" y="573" font-family='"Liberation Sans", Arial, sans-serif' font-size="9.4" font-weight="bold" stroke="#000" stroke-width="0.35" text-anchor="middle">GFP-Adv</text>
<text x="453" y="573" font-family='"Liberation Sans", Arial, sans-serif' font-size="9.4" font-weight="bold" stroke="#000" stroke-width="0.35" text-anchor="middle">VE-CadGFPAdv</text>
</svg></body></html>
